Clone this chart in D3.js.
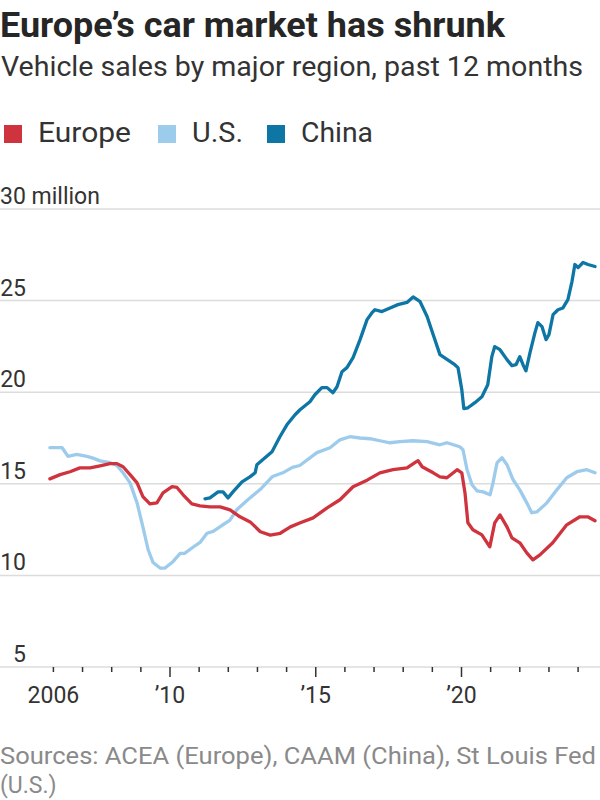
<!DOCTYPE html>
<html>
<head>
<meta charset="utf-8">
<script src="https://cdn.jsdelivr.net/npm/d3@7/dist/d3.min.js"></script>
<style>
  html, body { margin: 0; padding: 0; background: #fff; }
  svg { display: block; }
  text { font-family: "Liberation Sans Narrow", Roboto, sans-serif; }
</style>
</head>
<body>
<svg id="chart" width="600" height="800"></svg>
<script>
// ---- DATA ----
const seriesNames = ["Europe", "U.S.", "China"];
const yTicks = [5, 10, 15, 20, 25, 30];
const xMajorTicks = [2006, 2010, 2015, 2020];
const xTickLabels = ["2006", "\u201910", "\u201915", "\u201920"];
const xMinorYears = [2006,2007,2008,2009,2010,2011,2012,2013,2014,2015,2016,2017,2018,2019,2020,2021,2022,2023,2024];

const usYears = [2005.88,2006.3,2006.5,2006.8,2007.15,2007.36,2007.6,2007.94,2008.18,2008.39,2008.63,2008.87,2009.07,2009.25,2009.42,2009.66,2009.83,2010.1,2010.35,2010.5,2010.8,2011.03,2011.27,2011.48,2011.8,2012.05,2012.3,2012.65,2013.1,2013.52,2013.87,2014.2,2014.45,2015.04,2015.49,2015.83,2016.17,2016.52,2016.86,2017.2,2017.55,2017.89,2018.34,2018.82,2019.26,2019.5,2019.94,2020.05,2020.19,2020.36,2020.53,2020.74,2020.98,2021.08,2021.22,2021.39,2021.56,2021.77,2022.0,2022.24,2022.41,2022.59,2022.93,2023.27,2023.61,2023.96,2024.3,2024.58];
const usValues = [16.97,16.97,16.5,16.6,16.5,16.4,16.25,16.15,16.0,15.6,15.05,13.96,12.65,11.4,10.7,10.4,10.4,10.75,11.2,11.2,11.55,11.8,12.3,12.4,12.75,13.0,13.6,14.1,14.7,15.4,15.6,15.9,16.0,16.7,16.97,17.4,17.57,17.5,17.46,17.35,17.24,17.3,17.35,17.3,17.13,17.24,17.02,16.86,15.77,14.95,14.62,14.56,14.4,15.05,16.15,16.42,16.04,15.22,14.67,13.96,13.42,13.47,13.96,14.67,15.33,15.66,15.77,15.6];

const euYears = [2005.88,2006.23,2006.57,2006.91,2007.26,2007.6,2007.94,2008.18,2008.39,2008.63,2008.87,2009.07,2009.31,2009.55,2009.76,2010.07,2010.24,2010.45,2010.75,2011.03,2011.37,2011.72,2012.06,2012.4,2012.75,2013.1,2013.44,2013.78,2014.13,2014.47,2014.91,2015.39,2015.83,2016.28,2016.76,2017.2,2017.65,2018.13,2018.4,2018.51,2018.65,2019.03,2019.26,2019.5,2019.85,2020.01,2020.12,2020.22,2020.39,2020.7,2020.97,2021.14,2021.32,2021.56,2021.73,2022.0,2022.24,2022.45,2022.69,2023.13,2023.61,2024.06,2024.33,2024.58];
const euValues = [15.27,15.5,15.66,15.87,15.87,15.98,16.1,16.1,15.93,15.5,15.05,14.3,13.9,13.96,14.5,14.84,14.8,14.4,13.9,13.8,13.74,13.74,13.58,13.2,12.92,12.38,12.2,12.3,12.65,12.87,13.14,13.69,14.13,14.84,15.2,15.6,15.77,15.87,16.15,16.26,15.93,15.6,15.38,15.33,15.77,15.6,14.5,12.87,12.49,12.21,11.56,12.87,13.3,12.65,12.05,11.78,11.23,10.85,11.12,11.78,12.76,13.2,13.2,12.98];

const cnYears = [2011.2,2011.37,2011.65,2011.82,2011.99,2012.16,2012.47,2012.74,2012.92,2012.98,2013.26,2013.5,2013.77,2014.01,2014.29,2014.46,2014.8,2014.97,2015.21,2015.39,2015.59,2015.73,2015.9,2016.07,2016.28,2016.52,2016.76,2016.93,2017.03,2017.27,2017.55,2017.82,2018.13,2018.34,2018.58,2018.82,2019.03,2019.26,2019.77,2019.88,2020.01,2020.08,2020.22,2020.46,2020.7,2020.9,2021.04,2021.14,2021.32,2021.56,2021.73,2021.87,2022.0,2022.11,2022.21,2022.35,2022.52,2022.62,2022.76,2022.9,2023.0,2023.14,2023.31,2023.48,2023.65,2023.79,2023.89,2024.0,2024.17,2024.34,2024.58];
const cnValues = [14.18,14.23,14.56,14.56,14.23,14.56,15.11,15.38,15.6,16.04,16.42,16.75,17.57,18.22,18.77,19.04,19.48,19.86,20.25,20.25,19.97,20.3,21.12,21.34,21.89,22.87,23.96,24.34,24.5,24.4,24.6,24.78,24.9,25.2,24.94,24.13,23.14,22.05,21.5,21.34,20.14,19.1,19.15,19.43,19.75,20.41,21.94,22.49,22.32,21.78,21.45,21.5,21.94,21.5,21.17,22.16,23.25,23.8,23.58,22.87,23.14,24.23,24.5,24.6,25.05,26.04,26.97,26.8,27.08,26.97,26.86];

const colors = ["#cf343e", "#9dcbec", "#0d76a5"];

// ---- LAYOUT ----
const svg = d3.select("#chart");
svg.append("rect").attr("width", 600).attr("height", 800).attr("fill", "#fff");

const x = d3.scaleLinear().domain([2006, 2020]).range([53.4, 461.5]);
const y = d3.scaleLinear().domain([5, 30]).range([667, 209]);

function fit(sel, w) {
  const n = sel.node();
  const len = n.getComputedTextLength();
  if (Math.abs(len - w) > 1) sel.attr("textLength", w).attr("lengthAdjust", "spacingAndGlyphs");
  return sel;
}

// Title & subtitle
fit(svg.append("text").attr("x", 0).attr("y", 37)
  .attr("font-size", 35).attr("font-weight", "bold").attr("fill", "#262626")
  .text("Europe\u2019s car market has shrunk"), 505);
fit(svg.append("text").attr("x", 1).attr("y", 76)
  .attr("font-size", 27).attr("fill", "#333")
  .text("Vehicle sales by major region, past 12 months"), 582);

// Legend
const legendX = [4, 158, 267];
const legendTextW = [93, 51, 72];
seriesNames.forEach((name, i) => {
  svg.append("rect").attr("x", legendX[i]).attr("y", 125).attr("width", 18).attr("height", 18).attr("fill", colors[i]);
  fit(svg.append("text").attr("x", legendX[i] + 34).attr("y", 142)
    .attr("font-size", 27).attr("fill", "#333").text(name), legendTextW[i]);
});

// Grid
const g = svg.append("g");
g.selectAll("line.grid").data(yTicks).join("line")
  .attr("x1", 0).attr("x2", 600)
  .attr("y1", d => y(d)).attr("y2", d => y(d))
  .attr("stroke", "#dcdcdc").attr("stroke-width", 1.5);

g.selectAll("text.ylab").data(yTicks).join("text")
  .attr("x", d => d === 30 ? 0 : 26)
  .attr("text-anchor", d => d === 30 ? "start" : "end")
  .attr("y", d => y(d) - 5)
  .attr("font-size", 23).attr("fill", "#333")
  .text(d => d === 30 ? "30 million" : d);

// X axis ticks
g.selectAll("line.minor").data(xMinorYears).join("line")
  .attr("x1", d => x(d)).attr("x2", d => x(d))
  .attr("y1", y(5)).attr("y2", d => xMajorTicks.includes(d) && d !== 2006 ? y(5) + 10 : y(5) + 5)
  .attr("stroke", "#333").attr("stroke-width", 1.5);

g.selectAll("text.xlab").data(xMajorTicks).join("text")
  .attr("x", (d) => x(d)).attr("y", 703)
  .attr("text-anchor", "middle")
  .attr("font-size", 23).attr("fill", "#333")
  .text((d, i) => xTickLabels[i]);

// Lines
const line = d3.line().x(d => x(d[0])).y(d => y(d[1])).curve(d3.curveLinear);
const series = [
  { name: "U.S.", c: colors[1], data: d3.zip(usYears, usValues) },
  { name: "Europe", c: colors[0], data: d3.zip(euYears, euValues) },
  { name: "China", c: colors[2], data: d3.zip(cnYears, cnValues) }
];
svg.append("g").selectAll("path").data(series).join("path")
  .attr("d", d => line(d.data))
  .attr("fill", "none").attr("stroke", d => d.c)
  .attr("stroke-width", 3.3).attr("stroke-linejoin", "round").attr("stroke-linecap", "round");

// Source
fit(svg.append("text").attr("x", 0).attr("y", 764)
  .attr("font-size", 23).attr("fill", "#8a8a8a")
  .text("Sources: ACEA (Europe), CAAM (China), St Louis Fed"), 596);
svg.append("text").attr("x", 0).attr("y", 793)
  .attr("font-size", 23).attr("fill", "#8a8a8a")
  .text("(U.S.)");
</script>
</body>
</html>
